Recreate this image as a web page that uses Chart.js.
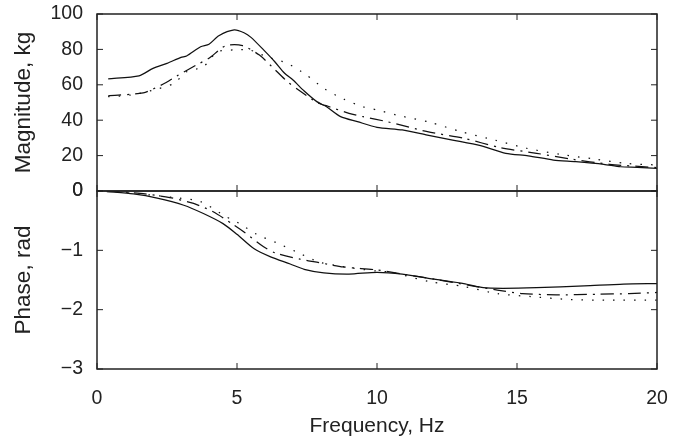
<!DOCTYPE html>
<html>
<head>
<meta charset="utf-8">
<script src="https://cdn.jsdelivr.net/npm/chart.js@4"></script>
<style>
  html, body { margin: 0; padding: 0; background: #fff; }
  #wrap { position: relative; width: 673px; height: 442px; overflow: hidden; }
  #wrap canvas { position: absolute; left: 0; }
  #magChart { top: 0; }
  #phaseChart { top: 177px; }
</style>
</head>
<body>
<div id="wrap">
  <canvas id="magChart" width="673" height="215"></canvas>
  <canvas id="phaseChart" width="673" height="265"></canvas>
</div>
<script>
// --- data ---
// x-axis ticks (Hz)
const freqTicks = [0, 5, 10, 15, 20];

// Magnitude panel (kg)
const magSolidF = [0.4, 1.5, 2.0, 2.5, 3.0, 3.2, 3.7, 4.0, 4.35, 4.9, 5.25, 5.5, 5.95, 6.35, 6.7, 7.0, 7.4, 7.85, 8.2, 8.7, 9.3, 10.0, 10.9, 11.8, 12.7, 13.7, 14.6, 15.4, 16.3, 17.1, 18.1, 18.7, 19.3, 20.0];
const magSolid  = [63.3, 65.1, 69.3, 72.1, 75.5, 76.3, 81.5, 82.9, 87.7, 91.0, 89.4, 86.8, 79.7, 73.0, 66.5, 62.7, 56.5, 50.5, 47.6, 42.0, 39.2, 36.0, 34.5, 31.6, 28.8, 25.6, 21.3, 19.9, 17.5, 16.6, 15.1, 13.7, 13.4, 12.8];

const magDashF = [0.4, 1.65, 2.35, 2.85, 3.55, 4.0, 4.6, 5.2, 5.8, 6.25, 6.8, 7.2, 7.85, 8.3, 9.0, 9.5, 10.35, 11.8, 13.1, 14.4, 15.7, 16.9, 18.3, 20.0];
const magDash  = [53.8, 55.5, 60.3, 65.0, 71.2, 75.0, 82.1, 82.1, 76.8, 70.2, 61.8, 57.1, 50.1, 47.6, 43.9, 42.0, 39.2, 33.5, 29.8, 24.5, 21.3, 18.1, 15.1, 13.2];

const magDotF = [0.4, 1.2, 2.0, 2.75, 3.2, 3.8, 4.3, 4.9, 5.45, 6.05, 6.8, 7.45, 8.1, 8.8, 9.5, 10.0, 10.7, 11.9, 13.0, 14.2, 15.35, 16.55, 17.75, 18.9, 20.0];
const magDot  = [53.3, 54.2, 57.0, 60.8, 67.4, 70.2, 78.7, 79.7, 79.7, 75.9, 72.1, 65.9, 58.0, 52.0, 47.6, 45.8, 42.9, 38.8, 33.5, 28.8, 24.1, 20.7, 18.1, 15.6, 14.7];

// Phase panel (rad)
const phSolidF = [0.35, 1.3, 2.15, 3.1, 3.8, 4.5, 5.0, 5.6, 6.2, 6.9, 7.4, 8.1, 9.0, 10.0, 10.9, 12.1, 13.1, 13.8, 14.5, 15.7, 17.4, 18.8, 20.0];
const phSolid  = [-0.01, -0.05, -0.12, -0.24, -0.38, -0.55, -0.73, -0.97, -1.11, -1.23, -1.32, -1.38, -1.40, -1.37, -1.40, -1.49, -1.56, -1.63, -1.64, -1.63, -1.60, -1.57, -1.56];

const phDashF = [0.35, 1.55, 2.6, 3.45, 4.15, 4.85, 5.25, 5.95, 6.4, 7.25, 7.85, 8.8, 10.0, 10.9, 12.1, 13.3, 14.3, 15.2, 16.4, 17.85, 19.0, 20.0];
const phDash  = [0.0, -0.04, -0.11, -0.21, -0.35, -0.56, -0.69, -0.94, -1.05, -1.15, -1.20, -1.28, -1.33, -1.40, -1.49, -1.59, -1.67, -1.73, -1.75, -1.74, -1.73, -1.71];

const phDotF = [0.35, 1.75, 2.75, 3.7, 4.6, 5.1, 5.7, 6.4, 7.1, 7.95, 9.15, 10.0, 10.5, 11.9, 13.1, 14.3, 15.5, 16.9, 18.3, 20.0];
const phDot  = [0.0, -0.06, -0.11, -0.18, -0.43, -0.55, -0.73, -0.87, -1.02, -1.20, -1.30, -1.35, -1.37, -1.53, -1.61, -1.73, -1.78, -1.83, -1.84, -1.84];

const magTicks = [0, 20, 40, 60, 80, 100];
const phaseTicks = [0, -1, -2, -3];

// --- styling ---
const INK = '#222';
const FONT = 'Liberation Sans, Arial, sans-serif';
const TICK_FONT = { family: FONT, size: 19.5 };
const AXIS_W = 97;     // left scale width so plot starts at x=97
const TICK_IN = 6;     // inward tick length

function pts(xs, ys) {
  return xs.map((x, i) => ({ x: x, y: ys[i] }));
}

function lineSet(xs, ys, dash) {
  return {
    data: pts(xs, ys),
    borderColor: '#111',
    borderWidth: 1.25,
    borderDash: dash,
    pointRadius: 0,
    tension: 0.25,
    fill: false
  };
}

function minusSign(v) {
  return v < 0 ? '\u2212' + Math.abs(v) : String(v);
}

// box around plot area with inward ticks on all four sides
const framePlugin = {
  id: 'frame',
  afterDraw(chart) {
    const { ctx, chartArea: a, scales } = chart;
    ctx.save();
    ctx.strokeStyle = INK;
    ctx.lineWidth = 1.5;
    ctx.strokeRect(a.left, a.top, a.right - a.left, a.bottom - a.top);
    ctx.lineWidth = 1;
    ctx.beginPath();
    freqTicks.forEach(v => {
      const x = scales.x.getPixelForValue(v);
      ctx.moveTo(x, a.top); ctx.lineTo(x, a.top + TICK_IN);
      ctx.moveTo(x, a.bottom); ctx.lineTo(x, a.bottom - TICK_IN);
    });
    scales.y.ticks.forEach(t => {
      const y = scales.y.getPixelForValue(t.value);
      ctx.moveTo(a.left, y); ctx.lineTo(a.left + TICK_IN, y);
      ctx.moveTo(a.right, y); ctx.lineTo(a.right - TICK_IN, y);
    });
    ctx.stroke();
    ctx.restore();
  }
};

function xScale(showLabels) {
  return {
    type: 'linear',
    min: 0,
    max: 20,
    display: showLabels,
    grid: { display: false, drawTicks: false },
    border: { display: false },
    afterBuildTicks: s => { s.ticks = freqTicks.map(v => ({ value: v })); },
    afterFit: s => {
      if (showLabels) s.height = 73;
      s.paddingLeft = 0;
      s.paddingRight = 0;
    },
    ticks: { color: INK, font: TICK_FONT, padding: 18, maxRotation: 0, autoSkip: false },
    title: {
      display: true,
      text: 'Frequency, Hz',
      color: INK,
      font: { family: FONT, size: 21 },
      padding: { top: 0, bottom: 3 }
    }
  };
}

function yScale(min, max, tickVals, title) {
  return {
    type: 'linear',
    min: min,
    max: max,
    grid: { display: false, drawTicks: false },
    border: { display: false },
    afterBuildTicks: s => { s.ticks = tickVals.map(v => ({ value: v })); },
    afterFit: s => {
      s.width = AXIS_W;
      s.paddingTop = 0;
      s.paddingBottom = 0;
    },
    ticks: { color: INK, font: TICK_FONT, padding: 14, callback: minusSign, autoSkip: false },
    title: {
      display: true,
      text: title,
      color: INK,
      font: { family: FONT, size: 22.5 },
      padding: { top: 10, bottom: 0 }
    }
  };
}

function baseOptions(padding, showX, yOpts) {
  return {
    responsive: false,
    animation: false,
    events: [],
    layout: { padding: padding },
    plugins: { legend: { display: false }, tooltip: { enabled: false } },
    scales: { x: xScale(showX), y: yOpts }
  };
}

// top panel: magnitude
new Chart(document.getElementById('magChart'), {
  type: 'line',
  data: {
    datasets: [
      lineSet(magSolidF, magSolid, []),
      lineSet(magDashF, magDash, [13, 6, 2, 6]),
      lineSet(magDotF, magDot, [1.5, 9])
    ]
  },
  options: baseOptions({ top: 14, right: 16, bottom: 24, left: 0 }, false,
    yScale(0, 100, magTicks, 'Magnitude, kg')),
  plugins: [framePlugin]
});

// bottom panel: phase
new Chart(document.getElementById('phaseChart'), {
  type: 'line',
  data: {
    datasets: [
      lineSet(phSolidF, phSolid, []),
      lineSet(phDashF, phDash, [13, 6, 2, 6]),
      lineSet(phDotF, phDot, [1.5, 9])
    ]
  },
  options: baseOptions({ top: 14, right: 16, bottom: 0, left: 0 }, true,
    yScale(-3, 0, phaseTicks, 'Phase, rad')),
  plugins: [framePlugin]
});
</script>
</body>
</html>
